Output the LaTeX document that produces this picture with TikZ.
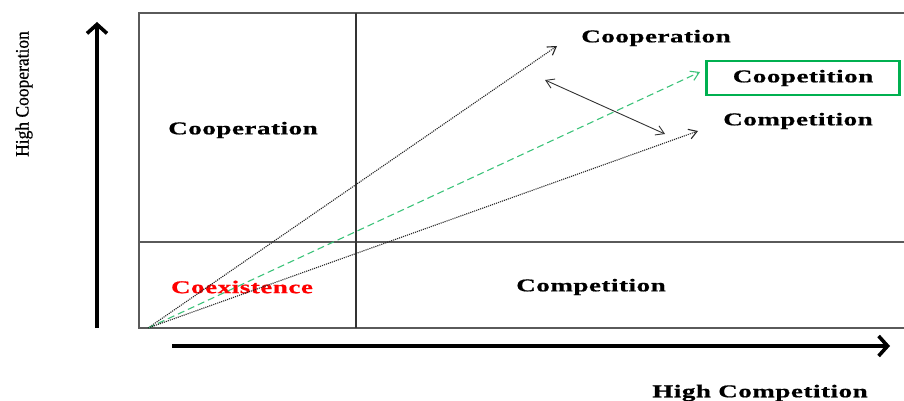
\documentclass[tikz,border=0pt]{standalone}
\usepackage{fontspec}
\setmainfont{Liberation Serif}
\newfontfamily\widebf[FakeStretch=1.5, LetterSpace=3, FakeBold=0.8]{Liberation Serif}
\newfontfamily\axisfont[FakeStretch=0.92, FakeBold=0.6]{Liberation Serif}
\usetikzlibrary{arrows.meta,positioning,calc}
\definecolor{framegray}{HTML}{5A5A5A}
\definecolor{coopgreen}{HTML}{00B050}
\definecolor{dashgreen}{HTML}{3CC37A}
\definecolor{coexred}{HTML}{FF0000}

\begin{document}
\begin{tikzpicture}[x=1pt, y=-1pt,
  font=\fontsize{18}{20}\selectfont,
  quad/.style={font=\widebf\bfseries\fontsize{18}{20}\selectfont, inner sep=0pt},
  frame/.style={draw=framegray, line width=1.3pt},
  axis/.style={-{Straight Barb[length=9pt, width=20pt]}, line width=3.6pt},
  vec/.style={-{Straight Barb[length=8pt, width=10pt]}, line width=1.1pt, draw=black!85, densely dotted},
  greenvec/.style={-{Straight Barb[length=8pt, width=10pt]}, line width=1.1pt, draw=dashgreen, dash pattern=on 7pt off 4pt}
]
\useasboundingbox (0,0) rectangle (904,401);

% quadrant frame
\draw[frame] (908,13) -- (139,13) -- (139,328) -- (908,328);
\draw[frame] (139,242) -- (908,242);
\draw[frame, draw=black!80] (356,13) -- (356,328);

% axes
\coordinate (ybase) at (97,328);
\coordinate (ytip) at (97,22);
\coordinate (xbase) at (172,346);
\coordinate (xtip) at (890,346);
\draw[axis] (ybase) -- (ytip);
\draw[axis] (xbase) -- (xtip);
\node[rotate=90, font=\axisfont\fontsize{19}{20}\selectfont] (ylabel) at (24,94) {High Cooperation};
\node[quad] (xlabel) at (760,393) {High Competition};

% quadrant labels
\node[quad] (coopleft) at (243,130) {Cooperation};
\node[quad, text=coexred] (coex) at (242,287) {Coexistence};
\node[quad] (compbottom) at (591,287) {Competition};
\node[quad] (cooptop) at (656,38) {Cooperation};
\node[quad, draw=coopgreen, line width=2.6pt, minimum width=193pt, minimum height=34pt] (coopetition) at (803,78) {Coopetition};
\node[quad] (compright) at (798,121) {Competition};

% vectors from the origin
\coordinate (o) at (148,328);
\coordinate (coopend) at (557,46);
\coordinate (coopetend) at (700,72);
\coordinate (compend) at (698,131);
\draw[vec] (o) -- (coopend);
\draw[greenvec] (o) -- (coopetend);
\draw[vec] (o) -- (compend);

% tension between cooperation and competition
\coordinate (tensa) at (545,80);
\coordinate (tensb) at (665,134);
\draw[{Straight Barb[length=8pt, width=10pt]}-{Straight Barb[length=8pt, width=10pt]}, line width=0.9pt, draw=black!80] (tensa) -- (tensb);
\end{tikzpicture}
\end{document}
